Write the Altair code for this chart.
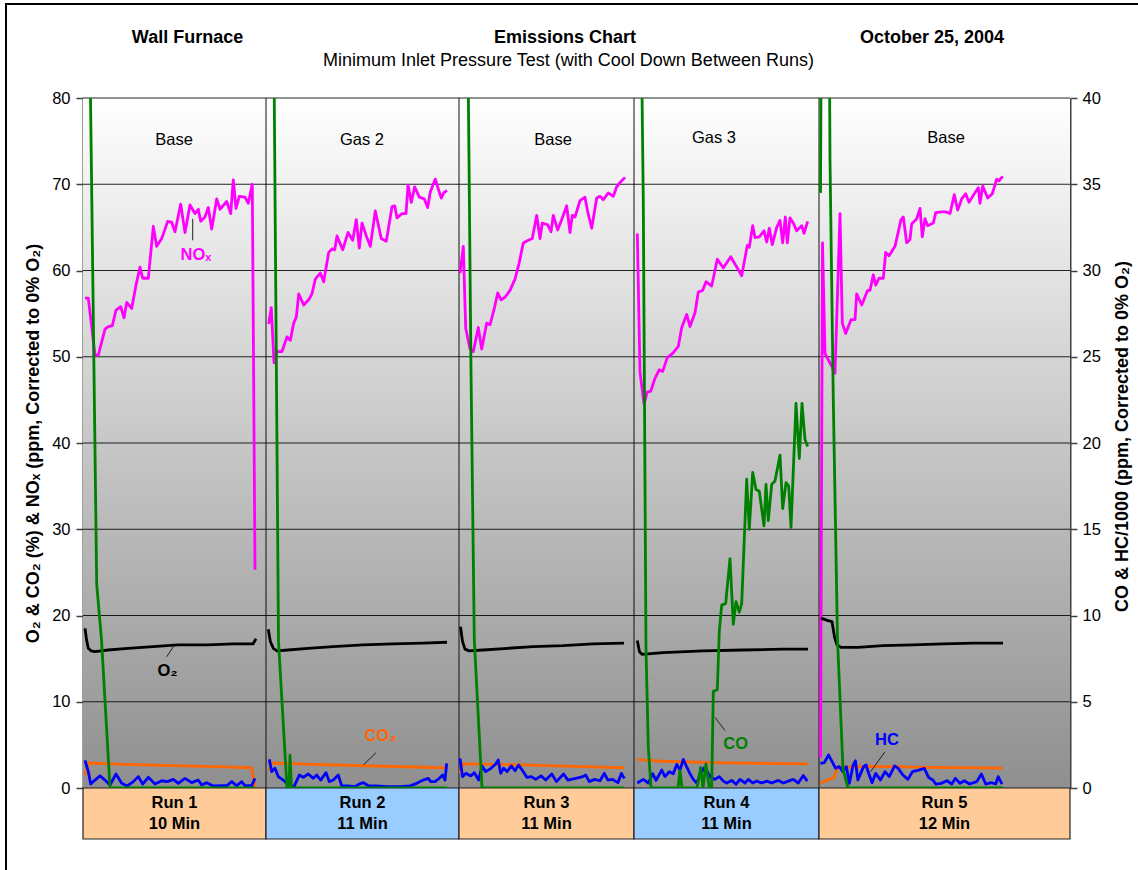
import altair as alt
import pandas as pd

FONT = "Liberation Sans"
W, H = 987, 690            # plot area (px)
T_END = 987                # sample-clock span across the plot
LEFT_MAX, RIGHT_MAX = 80, 40

# ---- run layout -------------------------------------------------------------
RUN_NAMES = ["Run 1", "Run 2", "Run 3", "Run 4", "Run 5"]
RUN_DURATIONS = ["10 Min", "11 Min", "11 Min", "11 Min", "12 Min"]
RUN_BOUNDS = [0, 183, 376, 551, 736, 987]
RUN_FILLS = ["#FFCC99", "#99CCFF", "#FFCC99", "#99CCFF", "#FFCC99"]
FUELS = ["Base", "Gas 2", "Base", "Gas 3", "Base"]
FUEL_T = [91, 279, 470, 631, 863]
FUEL_Y = [74.5, 74.5, 74.5, 74.8, 74.8]

# ---- NOx (ppm, corrected to 0% O2) -- (sample time, value) -------------------
NOX_RUN1 = [(2, 56.8), (5.3, 56.8), (12, 50.2), (15.3, 50.2), (22, 53.2), (25.3, 53.5), (29.3, 53.6),
            (33, 55.4), (37.7, 55.8), (41, 54.5), (43.7, 56.3), (48.7, 55.6), (53, 58.3), (57, 60.4),
            (59.7, 59.1), (65.3, 59.1), (70.3, 65.1), (73.7, 62.8), (78.7, 63.7), (84.7, 65.7),
            (88.7, 65.6), (92, 64.5), (97.7, 67.7), (102, 64.4), (107, 67.6), (112, 66.6), (115.3, 67.1),
            (117.7, 65.7), (122, 66.2), (125.3, 67.3), (128.7, 64.8), (133.7, 68.3), (137, 67.1),
            (143.7, 68.0), (147.7, 66.6), (150.3, 70.5), (153, 67.2), (156.3, 68.6), (162, 68.5),
            (165.3, 67.8), (169.3, 70.0), (172, 25.3)]
NOX_RUN2 = [(185.7, 53.8), (188.3, 55.7), (191, 49.3), (194, 50.6), (199, 50.6), (204, 52.3), (207.3, 51.9),
            (210.7, 53.9), (213.3, 54.6), (215.7, 57.3), (220.7, 56.0), (225.7, 56.6), (229, 57.3),
            (232.3, 59.0), (237.3, 59.7), (240.7, 58.7), (245.7, 62.1), (249, 62.5), (251.7, 62.4),
            (254, 64.0), (259.7, 62.4), (265, 64.4), (269.7, 63.5), (273.3, 65.9), (276.3, 62.6),
            (279, 65.5), (283, 64.1), (287.3, 62.8), (292.3, 66.9), (298.3, 63.7), (303.3, 63.4),
            (309, 67.4), (311.7, 67.5), (314, 66.1), (319, 66.6), (323, 66.6), (325, 69.9), (328.3, 67.9),
            (331.7, 69.7), (336.3, 68.5), (341.3, 68.3), (344.7, 67.3), (347.3, 69.1), (352.3, 70.6),
            (355.7, 69.3), (358.3, 68.4), (360.7, 69.0), (364, 69.3)]
NOX_RUN3 = [(377, 59.7), (380.3, 62.8), (382.7, 53.3), (387, 50.9), (390.3, 50.6), (395.3, 53.4),
            (398.7, 50.9), (403.7, 53.9), (407, 53.7), (411.3, 55.6), (414.7, 57.4), (418, 56.6),
            (422, 56.9), (427, 57.7), (432, 59.0), (436, 60.8), (440.3, 63.2), (445.3, 63.5), (449.3, 63.7),
            (453.7, 66.4), (457, 63.7), (459.3, 65.5), (464.7, 65.3), (468, 64.5), (470.3, 66.4),
            (474.7, 64.7), (479.3, 66.1), (483.7, 67.5), (487, 64.4), (489.3, 66.4), (492, 66.2),
            (497, 68.1), (502, 68.5), (504.7, 66.8), (508.7, 64.9), (513.7, 68.4), (517, 68.6),
            (520.3, 68.2), (525.3, 69.0), (530.3, 68.6), (533.7, 69.7), (537, 70.2), (542, 70.8)]
NOX_RUN4 = [(554.3, 64.3), (557, 48.2), (561, 44.5), (564.3, 45.9), (567.7, 46.0), (572, 47.5), (576.3, 48.5),
            (579.7, 48.3), (584.3, 49.9), (589.7, 50.4), (595.3, 51.2), (598.7, 53.4), (603.7, 54.9),
            (607, 53.5), (612, 55.1), (615.3, 57.5), (619.7, 57.7), (623, 58.7), (628.7, 58.2),
            (634.3, 61.3), (640.3, 60.3), (647.7, 61.6), (653.7, 60.4), (658.7, 59.4), (664.3, 62.9),
            (666.3, 62.7), (669.7, 65.2), (672, 63.8), (676.3, 63.9), (681, 64.6), (683.7, 63.3),
            (686.3, 64.9), (689.3, 63.0), (693.7, 65.0), (697, 65.8), (699.7, 63.2), (702.3, 66.2),
            (704.3, 63.2), (707, 66.1), (710.3, 65.5), (713.7, 64.6), (718.7, 65.2), (721, 64.3),
            (724.7, 65.7)]
NOX_RUN5 = [(737.5, 3.5), (739.5, 63.2), (742, 50.4), (748.7, 48.9), (752, 48.1), (757, 66.6), (759.3, 53.9),
            (762.7, 52.7), (768, 54.3), (772, 54.3), (773.7, 57.3), (778.7, 56.0), (784.7, 57.7),
            (787, 57.7), (790.3, 59.5), (792.7, 58.3), (796, 59.1), (800.3, 59.1), (802.7, 62.1),
            (806, 61.7), (812, 62.8), (818, 65.9), (820.3, 66.2), (823.7, 63.2), (827, 63.6),
            (828.7, 65.4), (833.7, 66.0), (837, 67.2), (839.3, 63.9), (842, 66.0), (844.7, 65.2),
            (850.3, 65.5), (852.7, 66.7), (858.7, 66.8), (862.7, 66.8), (867, 66.6), (871.3, 68.8),
            (874.7, 67.0), (878.7, 68.3), (882.7, 68.9), (886, 67.9), (891.3, 68.9), (895.3, 69.6),
            (897, 67.8), (899.7, 69.8), (904.7, 68.4), (909.3, 68.9), (913.7, 70.6), (916, 70.4),
            (918, 70.7), (920, 70.9)]

# ---- O2 (%) ------------------------------------------------------------------
O2_RUN1 = [(2, 18.5), (3.5, 17.2), (5.3, 16.2), (8, 15.9), (12, 15.8), (25, 16.0), (45, 16.2), (70, 16.4),
           (95, 16.6), (125, 16.6), (150, 16.7), (170, 16.7), (173, 17.3)]
O2_RUN2 = [(185.3, 18.4), (187.3, 17.0), (190.3, 16.2), (194, 15.9), (205, 16.0), (225, 16.2), (250, 16.4),
           (280, 16.6), (310, 16.7), (340, 16.8), (364, 16.9)]
O2_RUN3 = [(377.5, 18.7), (379.5, 17.0), (382, 16.1), (386, 15.9), (400, 16.0), (425, 16.2), (450, 16.4),
           (480, 16.5), (510, 16.7), (541, 16.8)]
O2_RUN4 = [(554.3, 17.1), (556.5, 15.8), (559, 15.5), (580, 15.7), (620, 15.9), (660, 16.0), (700, 16.1),
           (725, 16.1)]
O2_RUN5 = [(738, 19.7), (745, 19.4), (749, 19.3), (751.5, 17.5), (754, 16.6), (758, 16.3), (775, 16.3),
           (800, 16.5), (830, 16.6), (860, 16.7), (890, 16.8), (920, 16.8)]

# ---- CO2 (%) -----------------------------------------------------------------
CO2_RUN1 = [(2, 1.5), (5.3, 2.9), (40, 2.75), (90, 2.6), (140, 2.45), (168.7, 2.35), (172, 0.15)]
CO2_RUN2 = [(186, 2.0), (188.7, 2.9), (230, 2.75), (290, 2.55), (362, 2.35)]
CO2_RUN3 = [(377, 1.7), (379.5, 2.8), (430, 2.7), (490, 2.5), (541, 2.35)]
CO2_RUN4 = [(554.3, 3.3), (580, 3.1), (630, 2.95), (680, 2.85), (725, 2.8)]
CO2_RUN5 = [(737.5, 0.6), (751, 1.2), (754.5, 2.4), (790, 2.5), (850, 2.4), (920, 2.3)]

# ---- HC/1000 (ppm) -----------------------------------------------------------
HC_RUN1 = [(2, 1.6), (5.3, 0.95), (7.7, 0.23), (12, 0.46), (17, 0.7), (22, 0.46), (27, 0.17), (33, 0.81),
           (38.7, 0.27), (44.3, 0.12), (50.3, 0.37), (55.3, 0.66), (59.7, 0.23), (65.3, 0.62), (72, 0.23),
           (78.7, 0.42), (84.3, 0.37), (90.3, 0.5), (95.3, 0.27), (102, 0.56), (108.7, 0.31), (115.3, 0.46),
           (118.7, 0.17), (123.7, 0.31), (130.3, 0.12), (138.7, 0.13), (143.7, 0.13), (148.7, 0.37),
           (153.7, 0.13), (158.7, 0.37), (162, 0.13), (168.7, 0.13), (172, 0.56)]
HC_RUN2 = [(186.3, 1.66), (188.7, 0.95), (192, 1.14), (195.3, 0.66), (200.3, 0.46), (203.7, 0.27), (207, 0.12),
           (211, 0.08), (216.3, 0.75), (220.3, 0.62), (225.3, 0.81), (230.3, 0.56), (233.7, 0.75),
           (237.7, 0.46), (243, 0.89), (246.3, 0.37), (250.3, 0.46), (255.3, 0.75), (258.7, 0.12),
           (265.3, 0.12), (272, 0.08), (276.3, 0.23), (280.3, 0.31), (285.3, 0.13), (293.7, 0.12),
           (303.7, 0.08), (317, 0.08), (327, 0.12), (333.7, 0.27), (340.3, 0.46), (345.3, 0.56),
           (347.7, 0.37), (352, 0.37), (356.3, 0.56), (359.7, 0.75), (362, 0.46), (363.7, 1.43)]
HC_RUN3 = [(377, 1.72), (379.5, 0.66), (383, 0.85), (387.7, 0.7), (391.3, 0.89), (395.6, 0.46), (399, 1.28),
           (402.7, 0.95), (408, 1.14), (412.7, 1.39), (415.2, 1.62), (417.7, 0.85), (420.6, 1.14), (424, 0.95),
           (428.4, 1.28), (432, 1.0), (435.6, 1.33), (440.2, 0.95), (443.8, 0.62), (448.4, 0.66),
           (452.7, 0.5), (458, 0.7), (462.7, 0.46), (468.8, 0.81), (473.4, 0.37), (480.6, 0.81),
           (484.9, 0.46), (492.7, 0.56), (499.9, 0.66), (502.7, 0.75), (506.3, 0.37), (511.6, 0.5),
           (517, 0.42), (521.3, 0.85), (524.9, 0.46), (529.5, 0.5), (534.9, 0.31), (538.4, 0.85),
           (541.3, 0.56)]
HC_RUN4 = [(554.3, 0.29), (560.3, 0.5), (565.3, 0.29), (569.7, 0.83), (573, 0.44), (578.7, 1.04), (582, 0.66),
           (586.3, 0.94), (590.3, 0.83), (593.7, 1.37), (597, 1.04), (600.3, 1.66), (603.7, 1.22), (607, 0.83),
           (610.3, 0.5), (613.7, 0.29), (617.7, 0.83), (621, 1.16), (624.3, 0.94), (627.7, 0.61), (632, 0.5),
           (636.3, 0.66), (640.3, 0.4), (643.7, 0.29), (648.7, 0.44), (653, 0.22), (657, 0.5), (662, 0.29),
           (665.3, 0.5), (669.7, 0.29), (673.7, 0.4), (678.7, 0.29), (683.7, 0.4), (688.7, 0.29),
           (695.3, 0.44), (700.3, 0.29), (705.3, 0.4), (710.3, 0.5), (715.3, 0.29), (720.3, 0.72),
           (724.3, 0.4)]
HC_RUN5 = [(737.4, 1.43), (741.3, 1.47), (745.6, 1.91), (749.1, 1.53), (752.7, 1.14), (756.3, 1.24),
           (759.9, 0.95), (763.4, 1.24), (766.3, 0.27), (769.9, 1.28), (772.4, 1.58), (774.9, 0.46),
           (777.7, 0.85), (780.6, 1.24), (783.1, 1.33), (785.6, 0.85), (789.1, 0.31), (792.7, 0.85),
           (797.4, 0.46), (802, 0.95), (806.3, 0.66), (811.6, 1.28), (815.2, 1.14), (819.9, 0.75),
           (824.9, 0.5), (829.5, 0.95), (835.6, 1.04), (841.3, 1.14), (845.6, 0.62), (849.9, 0.46),
           (852.7, 0.23), (858.1, 0.27), (864.1, 0.42), (868.8, 0.23), (872.4, 0.56), (877, 0.27),
           (881.3, 0.42), (886.6, 0.23), (893.8, 0.37), (898.4, 0.81), (902.7, 0.23), (908.1, 0.31),
           (912.7, 0.23), (915.2, 0.66), (919, 0.23)]

# ---- CO/1000 (ppm) -----------------------------------------------------------
CO_RUN1 = [(4, 56), (13.7, 11.8), (18.5, 8.6), (27, 0), (172, 0)]
CO_RUN2 = [(189, 57), (195.5, 8.5), (204, 0), (206, 0), (207, 1.9), (208.5, 0), (364, 0)]
CO_RUN3 = [(382, 60), (386, 36.4), (388, 24.2), (391.3, 8.6), (399, 0), (541, 0)]
CO_RUN4 = [(555, 60), (560.3, 34), (563, 8), (565.3, 2.4), (568, 0), (595, 0), (597, 1.0), (599, 0),
           (614, 0), (617.7, 1.2), (620, 0), (623, 1.4), (626.3, 0), (628.7, 0), (630.3, 5.6), (634.3, 5.7),
           (636.3, 9.1), (638.7, 10.6), (642.7, 10.7), (647, 13.3), (650.3, 9.5), (653, 10.8), (656.3, 10.2),
           (658.7, 10.7), (663.7, 17.9), (666.3, 15.0), (669.7, 18.3), (673, 17.3), (676.3, 17.2),
           (681, 15.2), (683, 17.6), (685.3, 15.5), (688.7, 17.6), (692, 17.8), (697, 19.3), (699.7, 16.2),
           (703, 17.7), (705.7, 17.5), (708, 15.1), (713, 22.3), (716.3, 19.1), (719, 22.3), (722, 20.2),
           (724.7, 19.8)]
CO_RUN5 = [(737.5, 34.5), (742, 90), (747, 36.4), (750.3, 22.5), (754.5, 8.6), (760, 1.1), (765, 0), (920, 0)]

NOX_RUNS = [NOX_RUN1, NOX_RUN2, NOX_RUN3, NOX_RUN4, NOX_RUN5]
O2_RUNS = [O2_RUN1, O2_RUN2, O2_RUN3, O2_RUN4, O2_RUN5]
CO2_RUNS = [CO2_RUN1, CO2_RUN2, CO2_RUN3, CO2_RUN4, CO2_RUN5]
HC_RUNS = [HC_RUN1, HC_RUN2, HC_RUN3, HC_RUN4, HC_RUN5]
CO_RUNS = [CO_RUN1, CO_RUN2, CO_RUN3, CO_RUN4, CO_RUN5]

# ---- series call-outs (left-axis units) ---------------------------------------
LABEL_TEXT = ["NOₓ", "O₂", "CO₂", "CO", "HC"]
LABEL_COLOR = ["#FF00FF", "#000000", "#FF6600", "#008000", "#0000FF"]
LABEL_T = [113, 84.5, 297.5, 652.7, 804]
LABEL_V = [61.2, 13.0, 5.45, 4.49, 4.99]
LEADER_T1 = [109.7, 83.7, 280.3, 632, 802]
LEADER_V1 = [66.0, 15.2, 2.67, 8.19, 4.21]
LEADER_T2 = [109.7, 90.3, 293, 642, 787.7]
LEADER_V2 = [63.5, 16.4, 4.09, 6.66, 1.89]


def to_frame(runs):
    rows = []
    for i, pts in enumerate(runs, 1):
        for t, v in pts:
            rows.append({"t": t, "v": v, "run": i})
    return pd.DataFrame(rows)


X_SCALE = alt.Scale(domain=[0, T_END], nice=False, zero=False)
Y_LEFT = alt.Scale(domain=[0, LEFT_MAX], nice=False, zero=False)
Y_RIGHT = alt.Scale(domain=[0, RIGHT_MAX], nice=False, zero=False)

axis_common = dict(
    grid=False, domainColor="#404040", domainWidth=2, tickColor="#404040", tickSize=7, tickWidth=1.5,
    labelFont=FONT, labelFontSize=16.5, labelColor="#000000",
    titleFont=FONT, titleFontSize=18, titleFontWeight="bold", titleColor="#000000",
    titleAngle=270, titleAlign="center", titleBaseline="middle",
)
left_axis = alt.Axis(values=list(range(0, LEFT_MAX + 1, 10)), orient="left", labelPadding=6,
                     title="O₂ & CO₂ (%) & NOₓ (ppm, Corrected to 0% O₂)", titleX=-50, titleY=H / 2,
                     **axis_common)
right_axis = alt.Axis(values=list(range(0, RIGHT_MAX + 1, 5)), orient="right", labelPadding=5,
                      labelAlign="left", title="CO & HC/1000 (ppm, Corrected to 0% O₂)", titleX=52,
                      titleY=H / 2 - 7, **axis_common)

one_row = pd.DataFrame({"k": [0]})

# background gradient of the plot area
background = alt.Chart(one_row).mark_rect(
    color=alt.Gradient(gradient="linear", x1=0, x2=0, y1=0, y2=1,
                       stops=[alt.GradientStop(color="#ffffff", offset=0),
                              alt.GradientStop(color="#8f8f8f", offset=1)])
).encode(x=alt.value(0), x2=alt.value(W), y=alt.value(0), y2=alt.value(H))

grid = alt.Chart(pd.DataFrame({"v": list(range(10, LEFT_MAX + 1, 10))})).mark_rule(
    color="#000000", strokeWidth=1, opacity=0.85
).encode(y=alt.Y("v:Q", scale=Y_LEFT, axis=None), x=alt.value(0), x2=alt.value(W))

separators = alt.Chart(pd.DataFrame({"t": RUN_BOUNDS[1:-1]})).mark_rule(
    color="#111111", strokeWidth=1
).encode(x=alt.X("t:Q", scale=X_SCALE, axis=None), y=alt.value(0), y2=alt.value(H))

runs_df = pd.DataFrame({
    "start": RUN_BOUNDS[:-1], "end": RUN_BOUNDS[1:], "fill": RUN_FILLS,
    "name": RUN_NAMES, "dur": RUN_DURATIONS,
    "mid": [(a + b) / 2 for a, b in zip(RUN_BOUNDS[:-1], RUN_BOUNDS[1:])],
})
run_boxes = alt.Chart(runs_df).mark_rect(stroke="#222222", strokeWidth=1.2).encode(
    x=alt.X("start:Q", scale=X_SCALE, axis=None), x2="end:Q",
    y=alt.value(H), y2=alt.value(H + 51), color=alt.Color("fill:N", scale=None),
)
run_names = alt.Chart(runs_df).mark_text(font=FONT, fontSize=16.5, fontWeight="bold",
                                         baseline="alphabetic", color="#000000").encode(
    x=alt.X("mid:Q", scale=X_SCALE, axis=None), y=alt.value(H + 20), text="name:N")
run_durs = alt.Chart(runs_df).mark_text(font=FONT, fontSize=16.5, fontWeight="bold",
                                        baseline="alphabetic", color="#000000").encode(
    x=alt.X("mid:Q", scale=X_SCALE, axis=None), y=alt.value(H + 41), text="dur:N")

fuel_labels = alt.Chart(pd.DataFrame({"t": FUEL_T, "v": FUEL_Y, "txt": FUELS})).mark_text(
    font=FONT, fontSize=16.5, baseline="alphabetic", color="#000000"
).encode(x=alt.X("t:Q", scale=X_SCALE, axis=None), y=alt.Y("v:Q", scale=Y_LEFT, axis=None), text="txt:N")


def series_line(runs, color, scale, axis=None, clip=False):
    return alt.Chart(to_frame(runs)).mark_line(
        color=color, strokeWidth=2.8, strokeJoin="round", clip=clip
    ).encode(
        x=alt.X("t:Q", scale=X_SCALE, axis=None),
        y=alt.Y("v:Q", scale=scale, axis=axis),
        detail="run:N",
    )


# call-out labels with leader lines
leaders = alt.Chart(pd.DataFrame({"t1": LEADER_T1, "v1": LEADER_V1, "t2": LEADER_T2, "v2": LEADER_V2})).mark_rule(
    color="#222222", strokeWidth=1
).encode(x=alt.X("t1:Q", scale=X_SCALE, axis=None), y=alt.Y("v1:Q", scale=Y_LEFT, axis=None),
         x2="t2:Q", y2="v2:Q")
callouts = alt.Chart(pd.DataFrame({"t": LABEL_T, "v": LABEL_V, "txt": LABEL_TEXT, "c": LABEL_COLOR})).mark_text(
    font=FONT, fontSize=16.5, fontWeight="bold", baseline="alphabetic"
).encode(x=alt.X("t:Q", scale=X_SCALE, axis=None), y=alt.Y("v:Q", scale=Y_LEFT, axis=None),
         text="txt:N", color=alt.Color("c:N", scale=None))


def heading(text, x, y, bold=True):
    return alt.Chart(one_row).mark_text(
        font=FONT, fontSize=18, fontWeight="bold" if bold else "normal",
        baseline="alphabetic", align="center", color="#000000"
    ).encode(x=alt.value(x), y=alt.value(y), text=alt.value(text))


frame = alt.Chart(one_row).mark_rect(fillOpacity=0, stroke="#000000", strokeWidth=2).encode(
    x=alt.value(-77), x2=alt.value(1070), y=alt.value(-94), y2=alt.value(790))

# every layer carries its own explicit y domain, so independent scales line up
chart = alt.layer(
    background, grid, separators, run_boxes, run_names, run_durs, fuel_labels,
    series_line(NOX_RUNS, "#FF00FF", Y_LEFT, axis=left_axis),
    series_line(O2_RUNS, "#000000", Y_LEFT),
    series_line(CO2_RUNS, "#FF6600", Y_LEFT),
    series_line(HC_RUNS, "#0000FF", Y_RIGHT, axis=right_axis, clip=True),
    series_line(CO_RUNS, "#008000", Y_RIGHT, clip=True),
    leaders, callouts,
    heading("Wall Furnace", 104.5, -54.7),
    heading("Emissions Chart", 482, -54.7),
    heading("October 25, 2004", 849, -54.7),
    heading("Minimum Inlet Pressure Test (with Cool Down Between Runs)", 485.5, -32, bold=False),
    frame,
).resolve_scale(y="independent").properties(
    width=W, height=H,
    padding={"left": 83, "top": 98, "right": 68, "bottom": 82},
    autosize=alt.AutoSizeParams(type="none"),
    background="#ffffff",
).configure_view(stroke=None)

chart.save("out.html", embed_options={"renderer": "svg", "actions": False})
